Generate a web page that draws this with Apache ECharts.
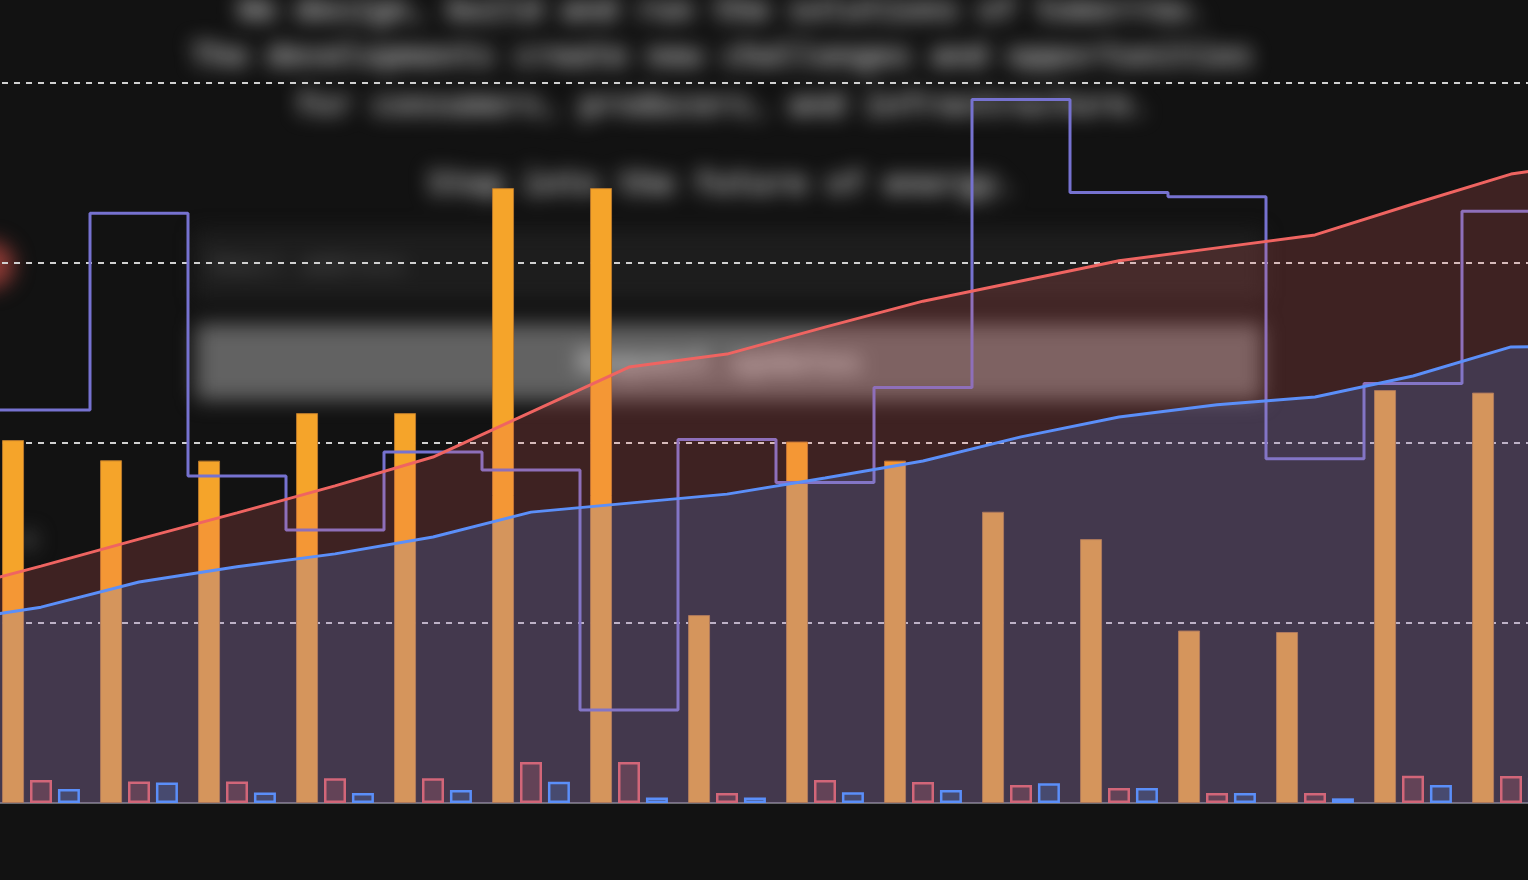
<!DOCTYPE html>
<html>
<head>
<meta charset="utf-8">
<script src="https://cdn.jsdelivr.net/npm/echarts@6/dist/echarts.min.js"></script>
<style>
  html, body { margin: 0; padding: 0; background: #121212; width: 1528px; height: 880px; overflow: hidden; }
  #page { position: absolute; left: 0; top: 0; width: 1528px; height: 880px; filter: blur(10px); }
  .ln { position: absolute; left: 0; width: 1444px; height: 40px; line-height: 40px; text-align: center;
        font-family: "DejaVu Sans Mono", monospace; font-size: 31.5px; color: #bcbcbc; font-weight: bold; white-space: nowrap; }
  #box { position: absolute; left: 196px; top: 232px; width: 1062px; height: 62px; background: #1d1d1d;
         border: 2px solid #2e2e2e; border-radius: 4px; }
  #ph { position: absolute; left: 12px; top: 11px; font-family: "DejaVu Sans Mono", monospace; font-size: 25px;
        line-height: 40px; color: #5a5a5a; white-space: nowrap; }
  #btn { position: absolute; left: 196px; top: 324px; width: 1066px; height: 76px; background: #626262; border-radius: 4px; }
  #btnt { position: absolute; left: 0; width: 1048px; top: 18px; height: 40px; line-height: 40px; text-align: center;
          font-family: "DejaVu Sans Mono", monospace; font-size: 31.5px; color: #c8c8c8; font-weight: bold; white-space: nowrap; }
  #dot1 { position: absolute; left: -34px; top: 241px; width: 48px; height: 48px; border-radius: 50%; background: #8e3a35; }
  #dot2 { position: absolute; left: 20px; top: 532px; width: 16px; height: 16px; border-radius: 50%; background: #4e4e4e; }
  #chart { position: absolute; left: -106px; top: 0; width: 1764px; height: 880px; }
</style>
</head>
<body>
<div id="page">
  <div class="ln" style="top:-11px">We design, build and run the solutions of tomorrow.</div>
  <div class="ln" style="top:35px">The developments create new challenges and opportunities</div>
  <div class="ln" style="top:84px">for consumers, producers, and infrastructure.</div>
  <div class="ln" style="top:163px">Step into the future of energy.</div>
  <div id="box"><div id="ph">Email address</div></div>
  <div id="btn"><div id="btnt">Request updates</div></div>
  <div id="dot1"></div>
  <div id="dot2"></div>
</div>
<div id="chart"></div>
<script>
// 18 categories: one partly visible on each side of the 16 fully visible ones
const categories = ['P0','P1','P2','P3','P4','P5','P6','P7','P8','P9','P10','P11','P12','P13','P14','P15','P16','P17'];
const orangeBars = [null, 100.8, 95.2, 95.1, 108.3, 108.3, 170.8, 170.8, 52.2, 100.4, 95.1, 80.9, 73.3, 47.9, 47.5, 114.7, 114.0, null];
const pinkBars   = [null, 6.4, 6.0, 6.0, 6.9, 6.9, 11.4, 11.4, 2.8, 6.4, 5.8, 5.0, 4.2, 2.8, 2.8, 7.6, 7.5, null];
const blueBars   = [null, 3.9, 5.7, 2.9, 2.8, 3.6, 5.9, 1.5, 1.5, 3.0, 3.6, 5.5, 4.2, 2.8, 1.3, 5.0, 7.0, null];
const stepLine   = [109.2, 109.2, 163.8, 90.8, 75.8, 97.5, 92.5, 25.8, 101.0, 89.0, 115.4, 195.4, 169.6, 168.4, 95.6, 116.5, 164.4, 164.4];
const redLine    = [58.6, 65.8, 73.3, 80.6, 88.1, 96.1, 108.6, 121.1, 124.7, 132.2, 139.4, 145.0, 150.6, 154.2, 157.8, 166.4, 174.7, 178.6];
const blueLine   = [50.2, 54.4, 61.4, 65.6, 69.2, 73.9, 80.8, 83.3, 85.8, 90.3, 95.0, 101.7, 107.2, 110.6, 112.8, 118.6, 126.7, 127.0];
const yTicks = { min: 0, max: 200, interval: 50 };

const chart = echarts.init(document.getElementById('chart'), null, { renderer: 'canvas' });
chart.setOption({
  backgroundColor: 'transparent',
  animation: false,
  grid: { left: 0, right: 0, top: 83, bottom: 77, containLabel: false },
  xAxis: {
    type: 'category',
    data: categories,
    boundaryGap: true,
    axisLine: { show: true, lineStyle: { color: '#6a6a70', width: 2 } },
    axisTick: { show: false },
    axisLabel: { show: false },
    splitLine: { show: false }
  },
  yAxis: {
    type: 'value',
    min: yTicks.min, max: yTicks.max, interval: yTicks.interval,
    axisLine: { show: false },
    axisTick: { show: false },
    axisLabel: { show: false },
    splitLine: { show: true, lineStyle: { color: '#d0d0d0', width: 2, type: [6, 6] } }
  },
  series: [
    {
      type: 'bar', data: orangeBars, barWidth: 22, barGap: '27%', z: 1,
      itemStyle: { color: '#f5a42a', borderColor: '#b8782c', borderWidth: 1 }
    },
    {
      type: 'line', data: stepLine, step: 'middle', z: 2, showSymbol: false,
      lineStyle: { color: '#7672d0', width: 3 }
    },
    {
      type: 'line', data: redLine, z: 3, showSymbol: false,
      lineStyle: { color: '#ef6461', width: 3 },
      areaStyle: { color: 'rgba(238,102,102,0.2)', opacity: 1 }
    },
    {
      type: 'line', data: blueLine, z: 4, showSymbol: false,
      lineStyle: { color: '#5b8ff9', width: 3 },
      areaStyle: { color: 'rgba(91,143,249,0.2)', opacity: 1 }
    },
    {
      type: 'bar', data: pinkBars, barWidth: 22, barGap: '27%', z: 5,
      itemStyle: { color: 'rgba(212,104,122,0.22)', borderColor: '#d26679', borderWidth: 2.5 }
    },
    {
      type: 'bar', data: blueBars, barWidth: 22, barGap: '27%', z: 5,
      itemStyle: { color: 'rgba(91,143,249,0.2)', borderColor: '#5b8ff9', borderWidth: 2.5 }
    }
  ]
});
</script>
</body>
</html>
